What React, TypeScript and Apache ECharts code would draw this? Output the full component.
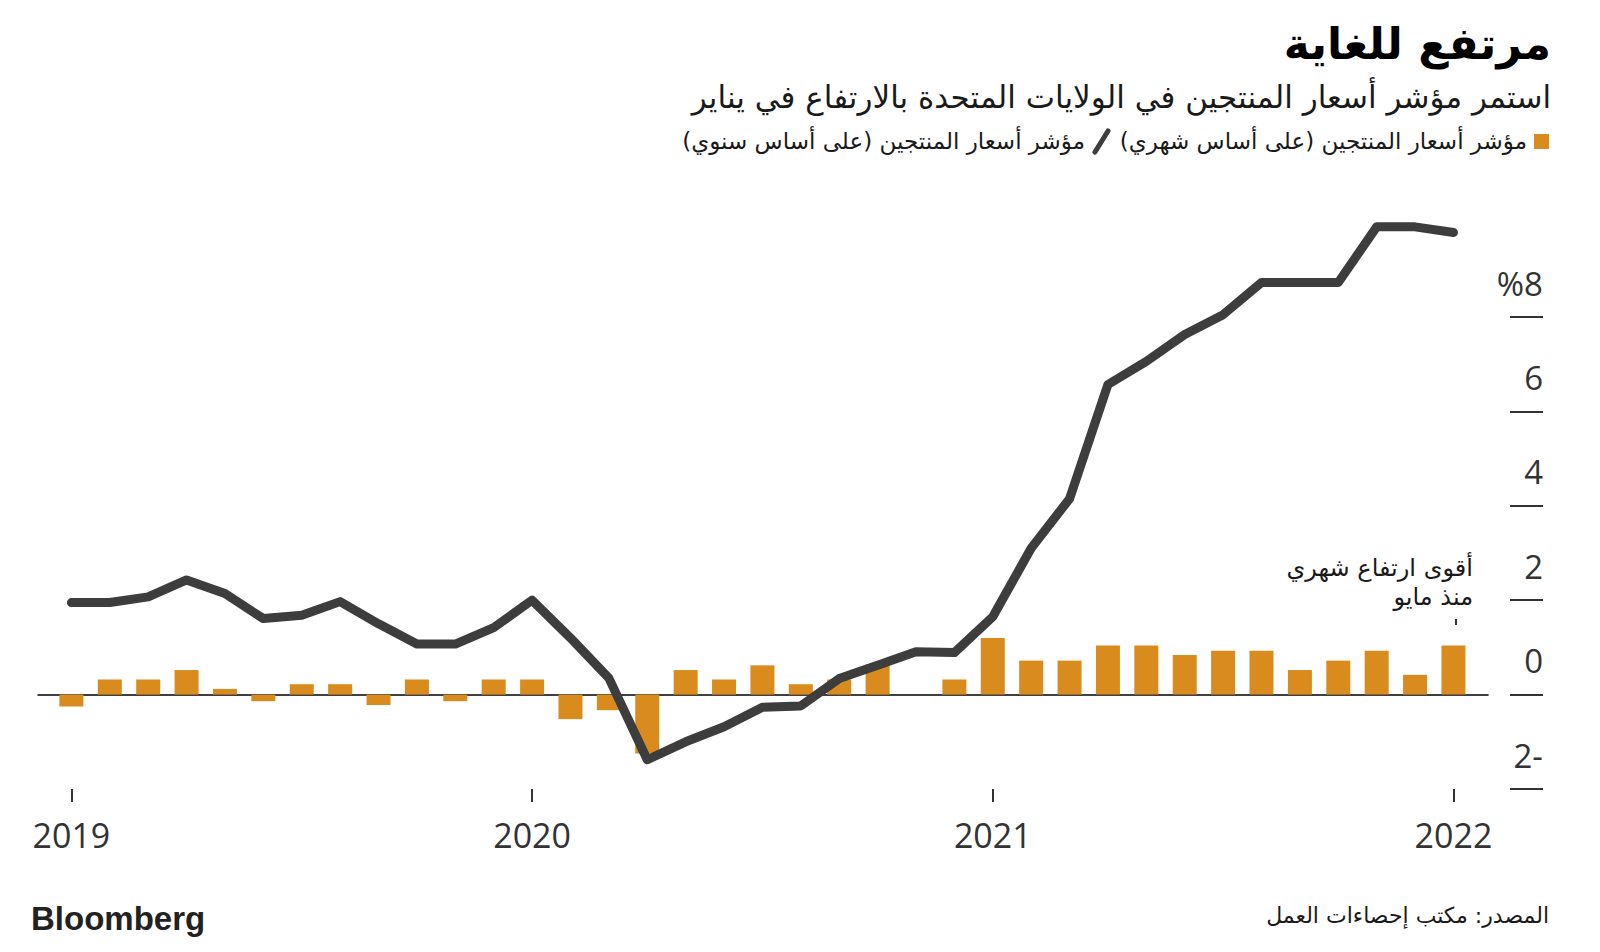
import React, { useEffect, useRef } from "react";
import * as echarts from "echarts";

// Monthly PPI change (%), Jan 2019 .. Jan 2022
const momValues = [
  -0.25, 0.32, 0.32, 0.52, 0.12, -0.14, 0.22, 0.22, -0.22, 0.32, -0.14, 0.32,
  0.32, -0.52, -0.33, -1.25, 0.52, 0.32, 0.62, 0.22, 0.32, 0.64, 0, 0.32,
  1.2, 0.72, 0.72, 1.04, 1.04, 0.84, 0.93, 0.93, 0.52, 0.72, 0.93, 0.42,
  1.04,
];
// Year-over-year PPI change (%), Jan 2019 .. Jan 2022
const yoyValues = [
  1.95, 1.95, 2.07, 2.43, 2.14, 1.61, 1.68, 1.97, 1.5, 1.07, 1.07, 1.42,
  2.0, 1.2, 0.35, -1.38, -1.0, -0.68, -0.27, -0.24, 0.34, 0.62, 0.91, 0.89,
  1.65, 3.1, 4.15, 6.57, 7.06, 7.63, 8.05, 8.73, 8.73, 8.73, 9.91, 9.91,
  9.79,
];
const yearLabels = ["2019", "2020", "2021", "2022"];
const yearTickIndex = [0, 12, 24, 36];

const titleText = "مرتفع للغاية";
const subtitleText = "استمر مؤشر أسعار المنتجين في الولايات المتحدة بالارتفاع في يناير";
const legendMonthly = "مؤشر أسعار المنتجين (على أساس شهري)\u200F";
const legendYearly = "مؤشر أسعار المنتجين (على أساس سنوي)\u200F";
const annotationText = "أقوى ارتفاع شهري\nمنذ مايو";
const sourceText = "المصدر: مكتب إحصاءات العمل";

const ORANGE = "#D98B1E";
const LINE = "#3d3d3d";
const AR_FONT = "'DejaVu Sans', sans-serif";

export default function App() {
  const ref = useRef<HTMLDivElement>(null);
  useEffect(() => {
    if (!ref.current) return;
    const chart = echarts.init(ref.current, null, { renderer: "svg" });
    const xMin = -0.87;
    const xMax = 36.9;
    chart.setOption({
      animation: false,
      backgroundColor: "#ffffff",
      grid: { left: 38, right: 112, top: 317, bottom: 163 },
      xAxis: [
        {
          type: "value",
          position: "top",
          min: xMin,
          max: xMax,
          axisLine: { show: true, onZero: true, lineStyle: { color: "#000", width: 1.5 } },
          axisTick: { show: false },
          axisLabel: { show: false },
          splitLine: { show: false },
        },
        {
          type: "value",
          position: "bottom",
          min: xMin,
          max: xMax,
          axisLine: { show: false, onZero: false },
          axisTick: {
            show: true,
            customValues: yearTickIndex,
            length: 13,
            lineStyle: { color: "#333", width: 2 },
          },
          axisLabel: {
            show: true,
            customValues: yearTickIndex,
            formatter: (v: number) => yearLabels[yearTickIndex.indexOf(Math.round(v))] ?? "",
            margin: 29,
            fontSize: 34,
            color: "#333",
            fontFamily: "'Open Sans', sans-serif",
          },
          splitLine: { show: false },
        },
      ],
      yAxis: {
        type: "value",
        position: "right",
        min: -2,
        max: 8,
        interval: 2,
        offset: 22,
        axisLine: { show: false, onZero: false },
        axisTick: {
          show: true,
          length: 33,
          lineStyle: { color: "#333", width: 2 },
        },
        axisLabel: {
          show: true,
          formatter: (v: number) => (v === 8 ? "%8" : v < 0 ? `${-v}-` : `${v}`),
          align: "right",
          verticalAlign: "bottom",
          lineHeight: 68,
          margin: 33,
          fontSize: 33,
          color: "#333",
          fontFamily: "'Open Sans', sans-serif",
        },
        splitLine: { show: false },
      },
      series: [
        {
          type: "bar",
          xAxisIndex: 0,
          data: momValues.map((v, i) => [i, v]),
          barWidth: 24,
          itemStyle: { color: ORANGE },
          z: 2,
        },
        {
          type: "line",
          xAxisIndex: 0,
          clip: false,
          data: yoyValues.map((v, i) => [i, v]),
          symbol: "none",
          lineStyle: { color: LINE, width: 9, cap: "round", join: "round" },
          z: 3,
        },
      ],
      graphic: [
        {
          type: "text",
          x: 1551,
          y: 43,
          style: {
            text: titleText,
            align: "right",
            verticalAlign: "middle",
            font: `bold 44px ${AR_FONT}`,
            fill: "#000",
          },
        },
        {
          type: "text",
          x: 1551,
          y: 97,
          style: {
            text: subtitleText,
            align: "right",
            verticalAlign: "middle",
            font: `31px ${AR_FONT}`,
            fill: "#1a1a1a",
          },
        },
        {
          type: "rect",
          shape: { x: 1534, y: 134, width: 15, height: 15 },
          style: { fill: ORANGE },
        },
        {
          type: "text",
          x: 1527,
          y: 141,
          style: {
            text: legendMonthly,
            align: "right",
            verticalAlign: "middle",
            font: `23px ${AR_FONT}`,
            fill: "#1a1a1a",
          },
        },
        {
          type: "line",
          shape: { x1: 1095, y1: 152, x2: 1108, y2: 131 },
          style: { stroke: LINE, lineWidth: 5, lineCap: "round" },
        },
        {
          type: "text",
          x: 1085,
          y: 141,
          style: {
            text: legendYearly,
            align: "right",
            verticalAlign: "middle",
            font: `23px ${AR_FONT}`,
            fill: "#1a1a1a",
          },
        },
        {
          type: "text",
          x: 1473,
          y: 582,
          style: {
            text: annotationText,
            align: "right",
            verticalAlign: "middle",
            lineHeight: 29,
            font: `24px ${AR_FONT}`,
            fill: "#1a1a1a",
          },
        },
        {
          type: "line",
          shape: { x1: 1456, y1: 619, x2: 1456, y2: 625 },
          style: { stroke: "#333", lineWidth: 2 },
        },
        {
          type: "text",
          x: 31,
          y: 918,
          style: {
            text: "Bloomberg",
            align: "left",
            verticalAlign: "middle",
            font: `bold 33px 'Liberation Sans', Arial, sans-serif`,
            fill: "#222",
          },
        },
        {
          type: "text",
          x: 1549,
          y: 915,
          style: {
            text: sourceText,
            align: "right",
            verticalAlign: "middle",
            font: `22px ${AR_FONT}`,
            fill: "#1a1a1a",
          },
        },
      ],
    });
    return () => chart.dispose();
  }, []);
  return (
    <div
      ref={ref}
      style={{ position: "fixed", left: 0, top: 0, width: 1600, height: 952, background: "#fff" }}
    />
  );
}
